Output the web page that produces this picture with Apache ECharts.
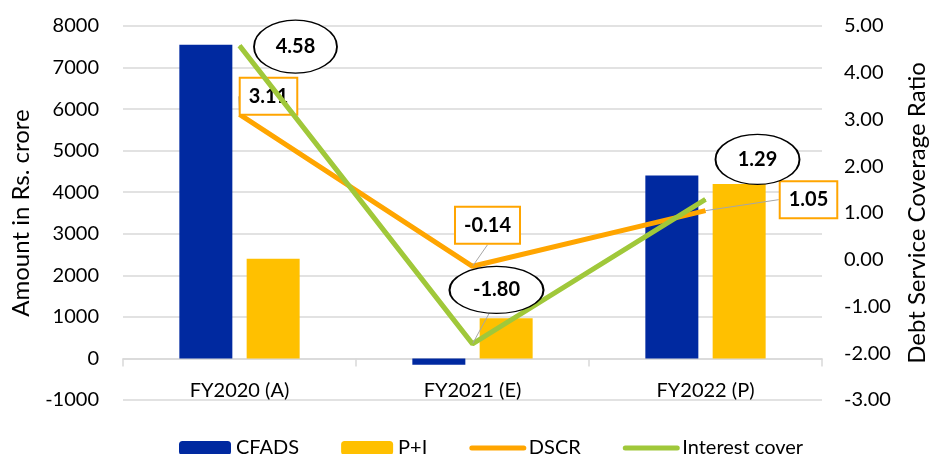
<!DOCTYPE html>
<html>
<head>
<meta charset="utf-8">
<script src="https://cdn.jsdelivr.net/npm/echarts@6/dist/echarts.min.js"></script>
<style>
  html, body { margin: 0; padding: 0; background: #ffffff; }
  #chart { width: 937px; height: 454px; }
</style>
</head>
<body>
<div id="chart"></div>
<script>
// Cash flow available for debt service vs. principal + interest, with coverage ratios
const categories = ['FY2020 (A)', 'FY2021 (E)', 'FY2022 (P)'];
const cfads = [7550, -150, 4400];
const principalInterest = [2400, 970, 4200];
const dscr = [3.11, -0.14, 1.05];
const interestCover = [4.58, -1.80, 1.29];

const amountAxis = { min: -1000, max: 8000, step: 1000 };
const ratioAxis = { min: -3, max: 5, step: 1 };

// Callout placement, in pixels from each data point
const dscrCallout = [[29, -18], [15, -41], [103, -11]];
const coverCallout = [
  { offset: [56, 1], size: [83, 53] },
  { offset: [24, -54], size: [94, 47] },
  { offset: [52, -40], size: [84, 50] }
];

const FONT = 'Lato';
const GRID_GREY = '#D9D9D9';
const LEADER_GREY = '#A6A6A6';
const C_BLUE = '#0029A0';
const C_YELLOW = '#FFC000';
const C_ORANGE = '#FFA500';
const C_GREEN = '#A0C83A';
const ELLIPSE = 'path://M0,50 A50,50 0 1,1 100,50 A50,50 0 1,1 0,50 Z';

const chart = echarts.init(document.getElementById('chart'), null, { renderer: 'canvas' });

chart.setOption({
  animation: false,
  textStyle: { fontFamily: FONT },
  grid: { left: 123, right: 110, top: 26, bottom: 54 },
  legend: {
    top: 433,
    left: 174,
    itemWidth: 52,
    itemHeight: 14,
    itemGap: 42,
    textStyle: { fontFamily: FONT, fontSize: 20, color: '#000' },
    data: [
      { name: 'CFADS' },
      { name: 'P+I' },
      { name: 'DSCR', itemStyle: { opacity: 0 }, lineStyle: { cap: 'round', width: 5 } },
      { name: 'Interest cover', itemStyle: { opacity: 0 }, lineStyle: { cap: 'round', width: 5 } }
    ]
  },
  xAxis: {
    type: 'category',
    data: categories,
    axisLine: { lineStyle: { color: GRID_GREY, width: 1.5 } },
    axisTick: { show: true, length: 8, lineStyle: { color: GRID_GREY, width: 1.5 } },
    axisLabel: { fontFamily: FONT, fontSize: 20, color: '#000', margin: -19 }
  },
  yAxis: [
    {
      type: 'value',
      min: amountAxis.min,
      max: amountAxis.max,
      interval: amountAxis.step,
      name: 'Amount in Rs. crore',
      nameLocation: 'middle',
      nameRotate: 90,
      nameGap: 90,
      nameTextStyle: { fontFamily: FONT, fontSize: 24, color: '#000' },
      axisLine: { show: false },
      axisTick: { show: false },
      axisLabel: { fontFamily: FONT, fontSize: 20, color: '#000', margin: 24, formatter: v => String(v) },
      splitLine: { lineStyle: { color: GRID_GREY, width: 1.5 } }
    },
    {
      type: 'value',
      min: ratioAxis.min,
      max: ratioAxis.max,
      interval: ratioAxis.step,
      position: 'right',
      name: 'Debt Service Coverage Ratio',
      nameLocation: 'middle',
      nameRotate: 90,
      nameGap: 83,
      nameTextStyle: { fontFamily: FONT, fontSize: 24, color: '#000' },
      axisLine: { show: false },
      axisTick: { show: false },
      axisLabel: {
        fontFamily: FONT, fontSize: 20, color: '#000', margin: 22,
        formatter: v => v.toFixed(2)
      },
      splitLine: { show: false }
    }
  ],
  series: [
    {
      name: 'CFADS',
      type: 'bar',
      data: cfads,
      barWidth: 53,
      barGap: '27%',
      itemStyle: { color: C_BLUE }
    },
    {
      name: 'P+I',
      type: 'bar',
      data: principalInterest,
      barWidth: 53,
      barGap: '27%',
      itemStyle: { color: C_YELLOW }
    },
    {
      name: 'DSCR',
      type: 'line',
      yAxisIndex: 1,
      z: 3,
      data: dscr,
      symbol: 'circle',
      symbolSize: 1,
      itemStyle: { color: C_ORANGE },
      lineStyle: { color: C_ORANGE, width: 5 },
      label: {
        show: true,
        position: 'inside',
        formatter: p => p.value.toFixed(2),
        fontFamily: FONT,
        fontSize: 20,
        fontWeight: 'bold',
        color: '#000',
        lineHeight: 22,
        backgroundColor: '#ffffff',
        borderColor: C_ORANGE,
        borderWidth: 2,
        padding: [7, 8, 6, 8]
      },
      labelLine: { show: true, lineStyle: { color: LEADER_GREY, width: 1 } },
      labelLayout: p => ({ dx: dscrCallout[p.dataIndex][0], dy: dscrCallout[p.dataIndex][1] })
    },
    {
      name: 'Interest cover',
      type: 'line',
      yAxisIndex: 1,
      z: 4,
      data: interestCover.map((v, i) => (i === 1
        ? { value: v, label: { show: true } }
        : { value: v })),
      symbol: 'circle',
      symbolSize: 1,
      itemStyle: { color: C_GREEN },
      lineStyle: { color: C_GREEN, width: 5 },
      // invisible label: only carries the leader line to the ellipse
      label: {
        show: false,
        position: 'inside',
        formatter: p => p.value.toFixed(2),
        fontSize: 20,
        color: 'rgba(0,0,0,0)'
      },
      labelLine: { show: true, lineStyle: { color: LEADER_GREY, width: 1 } },
      labelLayout: p => ({ dx: coverCallout[p.dataIndex].offset[0], dy: coverCallout[p.dataIndex].offset[1] }),
      markPoint: {
        z: 6,
        symbol: ELLIPSE,
        itemStyle: { color: '#ffffff', borderColor: '#000000', borderWidth: 1.5 },
        label: {
          show: true,
          position: 'inside',
          formatter: p => Number(p.value).toFixed(2),
          fontFamily: FONT,
          fontSize: 20,
          fontWeight: 'bold',
          color: '#000'
        },
        emphasis: { disabled: true },
        data: interestCover.map((v, i) => ({
          coord: [categories[i], v],
          value: v,
          symbolSize: coverCallout[i].size,
          symbolOffset: coverCallout[i].offset
        }))
      }
    }
  ]
});
</script>
</body>
</html>
